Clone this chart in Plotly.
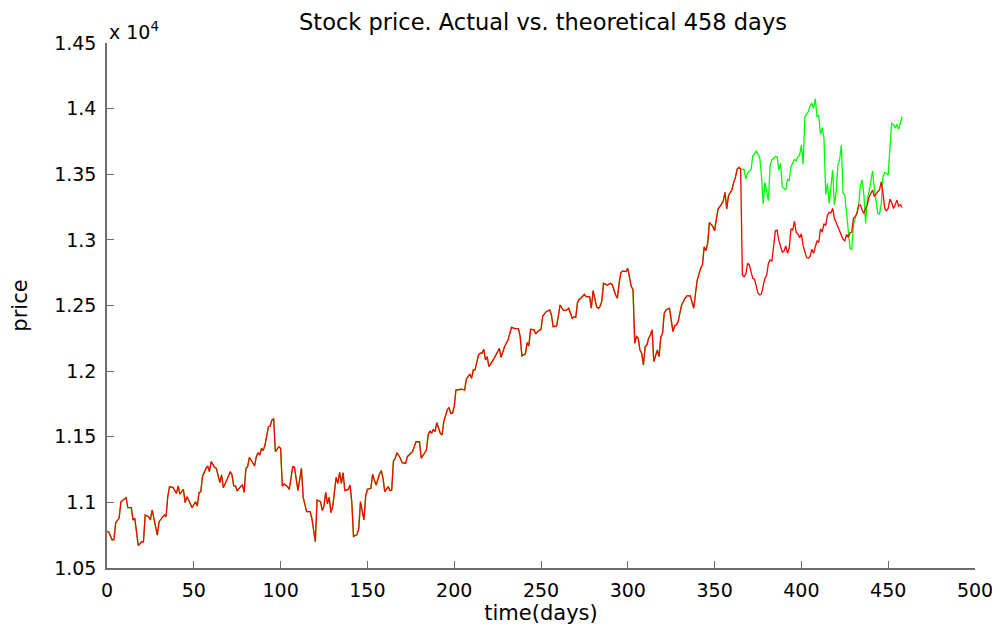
import plotly.graph_objects as go

# days 0-364: actual and theoretical coincide
hist_days = [0, 1, 3, 4, 5, 7, 8, 11, 12, 14, 15, 16, 18, 20, 21, 22, 24, 25, 26, 28, 29, 30,
             33, 34, 35, 36, 38, 40, 41, 42, 44, 45, 46, 47, 49, 51, 52, 53, 54, 55, 56, 57,
             58, 59, 60, 62, 63, 65, 66, 67, 69, 71, 72, 73, 74, 75, 77, 78, 79, 80, 81, 82,
             83, 85, 86, 87, 88, 89, 90, 91, 93, 94, 95, 96, 97, 99, 100, 101, 102, 104, 105,
             107, 108, 110, 112, 113, 115, 117, 118, 120, 121, 123, 124, 125, 126, 127, 128,
             129, 130, 132, 133, 134, 135, 136, 137, 139, 140, 141, 142, 144, 145, 146, 147,
             148, 149, 150, 152, 153, 154, 155, 157, 158, 159, 160, 162, 163, 164, 165, 166,
             167, 169, 170, 172, 173, 175, 176, 178, 180, 181, 183, 184, 185, 186, 187, 188,
             189, 190, 192, 193, 194, 196, 197, 198, 199, 200, 201, 203, 204, 206, 207, 208,
             209, 210, 211, 212, 214, 215, 216, 217, 218, 219, 220, 223, 226, 227, 229, 231,
             233, 235, 237, 238, 239, 241, 242, 243, 244, 246, 247, 248, 250, 251, 253, 255,
             256, 257, 259, 260, 261, 263, 265, 266, 268, 269, 270, 271, 272, 273, 275, 276,
             278, 279, 280, 282, 283, 284, 285, 286, 288, 290, 291, 293, 294, 295, 296, 297,
             299, 300, 301, 302, 303, 304, 305, 306, 307, 308, 309, 310, 311, 312, 313, 314,
             315, 316, 317, 318, 319, 320, 321, 322, 324, 325, 326, 327, 328, 329, 331, 333,
             334, 336, 338, 339, 340, 342, 343, 344, 345, 346, 347, 349, 350, 351, 352, 354,
             355, 356, 357, 358, 360, 361, 362, 363, 364]
hist_price = [10780, 10775, 10713, 10715, 10843, 10880, 11005, 11036, 10960, 10960, 10866,
              10879, 10670, 10700, 10700, 10904, 10891, 10866, 10942, 10802, 10751, 10853,
              10904, 10891, 11043, 11119, 11114, 11069, 11125, 11062, 11100, 10998, 11043,
              11018, 10960, 11005, 10972, 11074, 11081, 11196, 11234, 11259, 11277, 11235,
              11310, 11267, 11259, 11150, 11209, 11112, 11170, 11234, 11209, 11125, 11125,
              11089, 11120, 11132, 11076, 11259, 11272, 11343, 11323, 11277, 11348, 11379,
              11361, 11412, 11394, 11437, 11577, 11582, 11628, 11636, 11386, 11424, 11412,
              11125, 11140, 11120, 11099, 11272, 11267, 11089, 11259, 11038, 10929, 10929,
              10879, 10700, 11018, 11005, 10937, 10973, 11077, 10988, 11038, 10922, 10967,
              11191, 11145, 11229, 11145, 11226, 11089, 11099, 11132, 11005, 10741, 10754,
              10797, 11005, 10937, 10866, 11048, 11099, 11107, 11214, 11170, 11132, 11216,
              11242, 11183, 11082, 11120, 11089, 11094, 11315, 11336, 11379, 11336, 11302,
              11297, 11348, 11374, 11386, 11462, 11462, 11336, 11386, 11399, 11513, 11544,
              11526, 11557, 11539, 11607, 11526, 11513, 11615, 11704, 11724, 11679, 11679,
              11729, 11856, 11862, 11862, 11856, 11938, 11958, 11978, 11945, 12009, 12009,
              12123, 12136, 12136, 12167, 12085, 12110, 12034, 12097, 12174, 12105, 12186,
              12237, 12334, 12324, 12324, 12263, 12116, 12131, 12217, 12192, 12319, 12314,
              12283, 12301, 12319, 12420, 12453, 12466, 12428, 12339, 12344, 12420, 12504,
              12461, 12466, 12479, 12402, 12415, 12410, 12522, 12547, 12555, 12585, 12568,
              12568, 12479, 12613, 12491, 12479, 12491, 12530, 12669, 12656, 12669, 12660,
              12580, 12555, 12669, 12750, 12763, 12758, 12783, 12707, 12644, 12623, 12212,
              12263, 12250, 12161, 12136, 12047, 12186, 12199, 12250, 12275, 12314, 12072,
              12110, 12161, 12110, 12258, 12288, 12441, 12466, 12479, 12390, 12301, 12344,
              12352, 12377, 12504, 12555, 12573, 12573, 12479, 12593, 12694, 12783, 12809,
              12948, 12918, 12974, 13133, 13102, 13069, 13158, 13235, 13273, 13298, 13362,
              13235, 13337, 13382, 13438, 13476, 13540, 13552, 13540]

# actual price after day 364
actual_days = [365, 366, 367, 368, 369, 370, 372, 373, 375, 376, 377, 379, 380, 381, 382, 383,
               385, 386, 387, 389, 390, 391, 392, 393, 394, 395, 396, 397, 398, 399, 400, 401,
               403, 404, 405, 406, 407, 408, 409, 410, 411, 412, 413, 414, 415, 416, 417, 418,
               419, 420, 422, 423, 424, 425, 426, 427, 428, 429, 430, 431, 432, 433, 434, 435,
               436, 437, 438, 439, 440, 441, 442, 443, 444, 445, 446, 447, 448, 449, 450, 451,
               452, 453, 454, 455, 456, 457, 458]
actual_price = [12732, 12720, 12741, 12822, 12809, 12707, 12700, 12593, 12580, 12588, 12707,
                12732, 12822, 12847, 12839, 13069, 13074, 12994, 12906, 12915, 12954, 12898,
                12940, 13085, 13075, 13141, 13057, 13045, 13016, 13047, 12954, 12865, 12860,
                12872, 12929, 12898, 12954, 12994, 12980, 13085, 13060, 13123, 13110, 13187,
                13210, 13205, 13240, 13164, 13133, 13075, 13039, 13004, 12992, 13042, 13020,
                13055, 13060, 13164, 13177, 13202, 13265, 13265, 13227, 13202, 13240, 13265,
                13329, 13354, 13380, 13329, 13354, 13367, 13380, 13443, 13354, 13240, 13223,
                13240, 13311, 13285, 13240, 13265, 13303, 13257, 13270, 13247, 13250]

# theoretical price after day 364
theory_days = [365, 367, 368, 369, 370, 371, 372, 373, 374, 376, 377, 378, 379, 381, 382, 383,
               385, 386, 387, 388, 389, 390, 391, 392, 393, 394, 396, 397, 398, 399, 400, 401,
               402, 404, 405, 406, 407, 408, 409, 410, 411, 412, 413, 414, 415, 416, 417, 418,
               419, 420, 421, 422, 423, 424, 425, 426, 427, 428, 429, 430, 431, 432, 433, 434,
               435, 436, 437, 438, 439, 440, 441, 442, 443, 444, 445, 446, 447, 448, 449, 450,
               451, 452, 453, 454, 455, 456, 457, 458]
theory_price = [13535, 13463, 13508, 13525, 13535, 13641, 13654, 13679, 13628, 13489, 13273,
                13438, 13298, 13565, 13609, 13634, 13634, 13532, 13583, 13405, 13388, 13380,
                13461, 13451, 13557, 13613, 13603, 13634, 13645, 13723, 13576, 13939, 13977,
                14023, 14041, 14003, 14074, 13939, 13947, 13804, 13855, 13774, 13347, 13431,
                13278, 13418, 13532, 13266, 13362, 13570, 13609, 13723, 13354, 13342, 13215,
                13088, 12935, 12930, 13113, 13164, 13202, 13266, 13418, 13456, 13342, 13126,
                13316, 13367, 13443, 13525, 13393, 13291, 13202, 13195, 13278, 13481, 13514,
                13506, 13494, 13702, 13888, 13880, 13850, 13880, 13840, 13890, 13939, 13982]

x_ticks = [0, 50, 100, 150, 200, 250, 300, 350, 400, 450, 500]
y_ticks = [10500, 11000, 11500, 12000, 12500, 13000, 13500, 14000, 14500]
y_labels = ["1.05", "1.1", "1.15", "1.2", "1.25", "1.3", "1.35", "1.4", "1.45"]

font = "DejaVu Sans"
axis_col = "#6e6e6e"

fig = go.Figure()
fig.add_scatter(x=hist_days + theory_days, y=hist_price + theory_price, mode="lines",
                line=dict(color="#00ff00", width=1.3), name="theoretical")
fig.add_scatter(x=hist_days + actual_days, y=hist_price + actual_price, mode="lines",
                line=dict(color="#ff0000", width=1.3), name="actual")

# the page adds an 8px body margin, so margins here are 8px smaller on top/left
fig.update_layout(
    width=1000, height=626,
    paper_bgcolor="white", plot_bgcolor="white",
    showlegend=False,
    margin=dict(l=99, r=33, t=35, b=66, autoexpand=False),
    font=dict(family=font, size=19, color="black"),
    title=dict(text="Stock price. Actual vs. theoretical 458 days", x=0.535, xanchor="center",
               y=0.978, yanchor="middle", font=dict(family=font, size=22.5)),
)
fig.update_xaxes(range=[0, 500], tickvals=x_ticks, showgrid=False, zeroline=False,
                 showline=True, linecolor=axis_col, linewidth=1.5, automargin=False,
                 ticks="inside", ticklen=7, tickcolor=axis_col, tickwidth=1.3,
                 ticklabelstandoff=4,
                 title=dict(text="time(days)", standoff=0, font=dict(size=21)))
fig.update_yaxes(range=[10500, 14500], tickvals=y_ticks, ticktext=y_labels, showgrid=False,
                 zeroline=False, showline=True, linecolor=axis_col, linewidth=1.5,
                 automargin=False, ticks="inside", ticklen=7, tickcolor=axis_col,
                 tickwidth=1.3, ticklabelstandoff=5,
                 title=dict(text="price", standoff=32, font=dict(size=21)))
fig.add_annotation(text="x 10<sup>4</sup>", xref="paper", yref="paper", x=0, y=1.0,
                   xanchor="left", yanchor="bottom", showarrow=False, yshift=-2,
                   font=dict(family=font, size=19))

fig.write_html("out.html")
